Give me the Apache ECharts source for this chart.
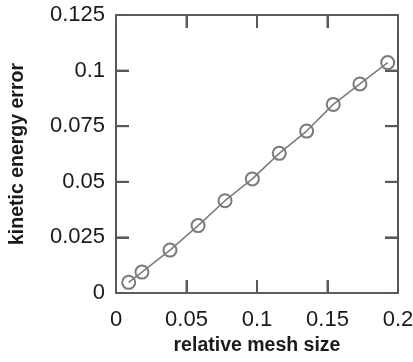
<!DOCTYPE html>
<html>
<head>
<meta charset="utf-8">
<style>
  html, body { margin: 0; padding: 0; background: #fff; }
  #chart { width: 413px; height: 362px; }
</style>
<script src="https://cdn.jsdelivr.net/npm/echarts@6/dist/echarts.min.js"></script>
</head>
<body>
<div id="chart"></div>
<script>
// Kinetic energy error versus relative mesh size
const meshSize = [0.009, 0.0184, 0.0383, 0.0582, 0.0773, 0.0967, 0.1158, 0.1352, 0.1541, 0.173, 0.1927];
const keError  = [0.0048, 0.0094, 0.0193, 0.0303, 0.0415, 0.0513, 0.0628, 0.0728, 0.0848, 0.094, 0.1036];

// interior tick positions, mirrored on both sides of the frame
const xTickValues = [0.05, 0.1, 0.15];
const yTickValues = [0.025, 0.05, 0.075, 0.1];

const xTicks = { min: 0, max: 0.2, interval: 0.05 };
const yTicks = { min: 0, max: 0.125, interval: 0.025 };

const FONT = '"Liberation Sans", Arial, Helvetica, sans-serif';
const frameColor = '#2a2a2a';
const tickColor = '#5a5a5a';
const TICK_LEN = 13;

const points = meshSize.map((x, i) => [x, keError[i]]);

// value axis drawn as one side of the closed frame, ticks pointing inward
function frameAxis(extra) {
  return Object.assign({
    type: 'value',
    axisLine: { show: true, onZero: false, lineStyle: { color: frameColor, width: 1.6 } },
    axisTick: { show: true, inside: true, length: TICK_LEN, lineStyle: { color: tickColor, width: 2 } },
    splitLine: { show: false }
  }, extra);
}

const tickStyle = { stroke: tickColor, lineWidth: 2 };

// inward tick pairs on bottom/top edges
function renderXTick(params, api) {
  const x = api.coord([api.value(0), yTicks.min])[0];
  const yb = api.coord([xTicks.min, yTicks.min])[1];
  const yt = api.coord([xTicks.min, yTicks.max])[1];
  return {
    type: 'group',
    children: [
      { type: 'line', shape: { x1: x, y1: yb, x2: x, y2: yb - TICK_LEN }, style: tickStyle },
      { type: 'line', shape: { x1: x, y1: yt, x2: x, y2: yt + TICK_LEN }, style: tickStyle }
    ]
  };
}

// inward tick pairs on left/right edges
function renderYTick(params, api) {
  const y = api.coord([xTicks.min, api.value(1)])[1];
  const xl = api.coord([xTicks.min, yTicks.min])[0];
  const xr = api.coord([xTicks.max, yTicks.min])[0];
  return {
    type: 'group',
    children: [
      { type: 'line', shape: { x1: xl, y1: y, x2: xl + TICK_LEN, y2: y }, style: tickStyle },
      { type: 'line', shape: { x1: xr, y1: y, x2: xr - TICK_LEN, y2: y }, style: tickStyle }
    ]
  };
}

const chart = echarts.init(document.getElementById('chart'), null, { renderer: 'canvas' });
chart.setOption({
  backgroundColor: '#fff',
  animation: false,
  grid: {
    left: 116, right: 15, top: 15, bottom: 69,
    outerBoundsMode: 'none',
    containLabel: false
  },
  xAxis: [
    frameAxis(Object.assign({}, xTicks, {
      position: 'bottom',
      name: 'relative mesh size',
      nameLocation: 'middle',
      nameGap: 43,
      nameTextStyle: { fontFamily: FONT, fontSize: 19.5, fontWeight: 'bold', color: '#1a1a1a' },
      axisLabel: { margin: 16, fontFamily: FONT, fontSize: 22, color: '#1a1a1a' }
    })),
    frameAxis(Object.assign({}, xTicks, {
      position: 'top',
      axisLabel: { show: false }
    }))
  ],
  yAxis: [
    frameAxis(Object.assign({}, yTicks, {
      position: 'left',
      name: 'kinetic energy error',
      nameLocation: 'middle',
      nameGap: 88,
      nameTextStyle: { fontFamily: FONT, fontSize: 19.5, fontWeight: 'bold', color: '#1a1a1a' },
      axisLabel: { margin: 11, fontFamily: FONT, fontSize: 22, color: '#1a1a1a' }
    })),
    frameAxis(Object.assign({}, yTicks, {
      position: 'right',
      axisLabel: { show: false }
    }))
  ],
  series: [
    {
      type: 'custom',
      data: xTickValues.map(v => [v, yTicks.min]),
      renderItem: renderXTick,
      silent: true,
      z: 2
    },
    {
      type: 'custom',
      data: yTickValues.map(v => [xTicks.min, v]),
      renderItem: renderYTick,
      silent: true,
      z: 2
    },
    {
      type: 'line',
      data: points,
      xAxisIndex: 0,
      yAxisIndex: 0,
      symbol: 'circle',
      symbolSize: 13,
      showAllSymbol: true,
      z: 3,
      lineStyle: { color: '#7a7a7a', width: 1.5 },
      itemStyle: { color: 'rgba(255,255,255,0)', borderColor: '#7a7a7a', borderWidth: 2 },
      emphasis: { disabled: true }
    },
    {
      // binds the mirrored top/right axes so they are drawn
      type: 'line',
      data: points,
      xAxisIndex: 1,
      yAxisIndex: 1,
      symbol: 'none',
      silent: true,
      z: 1,
      lineStyle: { opacity: 0 }
    }
  ]
});
</script>
</body>
</html>
